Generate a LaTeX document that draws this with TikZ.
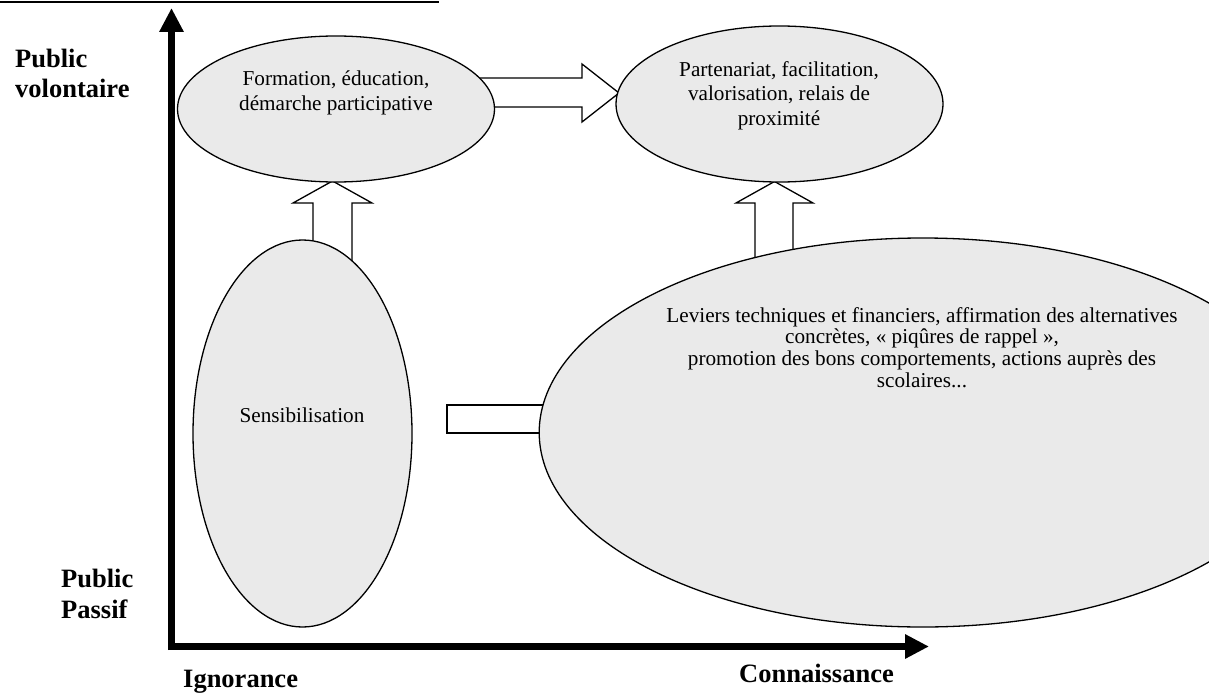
\documentclass[tikz,border=0pt]{standalone}
\usepackage{fontspec}
\setmainfont{Liberation Serif}
\usetikzlibrary{arrows.meta,shapes.geometric}
\definecolor{ellfill}{RGB}{234,234,234}
\begin{document}
\begin{tikzpicture}[x=1pt,y=-1pt,
  ell/.style={ellipse, draw=black, line width=1.3pt, fill=ellfill, inner sep=0pt, outer sep=0pt},
  blockarrow/.style={draw=black, line width=1.3pt, fill=white, line join=miter},
  txt/.style={font=\fontsize{21.2}{24.5}\selectfont, align=center, inner sep=0pt, anchor=base},
  lbl/.style={font=\fontsize{26.5}{29.5}\selectfont\bfseries, align=left, inner sep=0pt, anchor=base west},
  axis/.style={line width=7pt, -{Triangle[length=24pt,width=23pt]}}]
\useasboundingbox (0,0) rectangle (1209,693);
\clip (0,0) rectangle (1209,693);
% top rule (cut-off heading)
\coordinate (rl) at (0,2);
\coordinate (rr) at (439,2);
\draw[line width=2.5pt] (rl) -- (rr);
% block arrows (behind the ellipses)
\draw[blockarrow] (470,78) -- (582,78) -- (582,64) -- (619,93) -- (582,122) -- (582,107) -- (470,107) -- cycle;
\draw[blockarrow] (313,270) -- (313,203) -- (293,203) -- (332.5,181) -- (372,203) -- (352,203) -- (352,270) -- cycle;
\draw[blockarrow] (755,300) -- (755,203) -- (736,203) -- (774.5,181.5) -- (813,203) -- (793,203) -- (793,300) -- cycle;
\draw[blockarrow] (447,405) rectangle (580,433);
% ellipses
\node[ell, minimum width=317pt, minimum height=146pt] (e1) at (336,109) {};
\node[ell, minimum width=327pt, minimum height=156pt] (e2) at (779.5,104) {};
\node[ell, minimum width=219pt, minimum height=387pt] (es) at (302.5,433.5) {};
\node[ell, minimum width=767pt, minimum height=389pt] (eb) at (922.7,432.5) {};
% texts (anchor = baseline of the last line)
\node[txt] (t1) at (336,110) {Formation, éducation,\\démarche participative};
\node[txt] (t2) at (779,125) {Partenariat, facilitation,\\valorisation, relais de\\proximité};
\node[txt] (t3) at (302,422) {Sensibilisation};
\node[txt, font=\fontsize{21.2}{21.8}\selectfont] (t4) at (922,387.5) {Leviers techniques et financiers, affirmation des alternatives\\concrètes, « piqûres de rappel »,\\promotion des bons comportements, actions auprès des\\scolaires...};
% axis labels
\node[lbl] (pv) at (15,97) {Public\\volontaire};
\node[lbl, font=\fontsize{26.5}{30.5}\selectfont\bfseries] (pp) at (61,618) {Public\\Passif};
\node[lbl] (ig) at (183,687) {Ignorance};
\node[lbl] (cn) at (739,682) {Connaissance};
% axes
\coordinate (yb) at (171.5,650);
\coordinate (ytip) at (171.5,8);
\coordinate (xb) at (168,646.5);
\coordinate (xtip) at (929,646.5);
\draw[axis] (yb) -- (ytip);
\draw[axis] (xb) -- (xtip);
\end{tikzpicture}
\end{document}
